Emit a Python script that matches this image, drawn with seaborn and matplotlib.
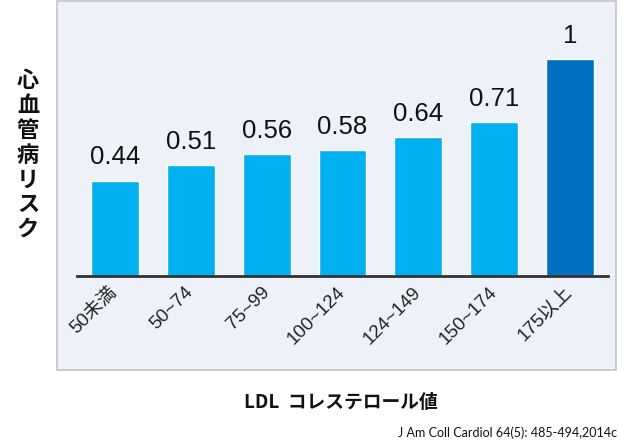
import pandas as pd
import seaborn as sns
import matplotlib.pyplot as plt
from matplotlib.patches import Rectangle

# data
categories = ["50未満", "50~74", "75~99", "100~124", "124~149", "150~174", "175以上"]
risk = [0.44, 0.51, 0.56, 0.58, 0.64, 0.71, 1]
bar_colors = ["#00b0f0"] * 6 + ["#0070c0"]
value_labels = ["0.44", "0.51", "0.56", "0.58", "0.64", "0.71", "1"]

df = pd.DataFrame({"ldl": categories, "risk": risk})

sns.set_style("white")
plt.rcParams["font.family"] = ["Liberation Sans", "Noto Sans CJK JP", "DejaVu Sans"]

W, H = 628, 445
fig = plt.figure(figsize=(W / 100, H / 100), dpi=100)
fig.patch.set_facecolor("white")

# light panel behind the chart
fig.patches.append(Rectangle((57 / W, 1 - 370 / H), (616 - 57) / W, 369 / H,
                             transform=fig.transFigure, facecolor="#edf1f8",
                             edgecolor="#c4c4c4", linewidth=1.2, zorder=-5))

ax = fig.add_axes([77 / W, 1 - 276 / H, (608 - 77) / W, 266 / H])
ax.set_facecolor("none")
ax.set_zorder(2)

sns.barplot(data=df, x="ldl", y="risk", hue="ldl", palette=bar_colors,
            legend=False, width=0.63, saturation=1, ax=ax)

for cont, lab in zip(ax.containers, value_labels):
    ax.bar_label(cont, labels=[lab], padding=8, fontsize=18.5, color="#111111")

ax.set_xlim(-0.5, 6.5)
ax.set_ylim(0, 266 / 217)
ax.set_yticks([])
ax.set_xlabel("")
ax.set_ylabel("")
for s in ["top", "right", "left"]:
    ax.spines[s].set_visible(False)
ax.spines["bottom"].set_color("#333333")
ax.spines["bottom"].set_linewidth(2)

ax.tick_params(axis="x", length=0, pad=10)
plt.setp(ax.get_xticklabels(), rotation=45, ha="right", va="center",
         rotation_mode="anchor", fontsize=13.5, color="#222222")

# vertical y label, one character per line
fig.text(28 / W, 1 - 155 / H, "\n".join("心血管病リスク"), ha="center", va="center",
         fontsize=16, fontweight="bold", family=["Noto Sans CJK JP"],
         linespacing=1.1, color="#111111")

fig.text(341 / W, 1 - 403 / H, "LDL  コレステロール値", ha="center", va="center",
         fontsize=13.5, fontweight="bold", family=["Noto Sans CJK JP"], color="#111111")

fig.text(617 / W, 1 - 433 / H, "J Am Coll Cardiol 64(5): 485-494,2014c", ha="right",
         va="center", fontsize=9, family=["Lato", "DejaVu Sans"], color="#111111")

fig.savefig("out.png", dpi=100)
